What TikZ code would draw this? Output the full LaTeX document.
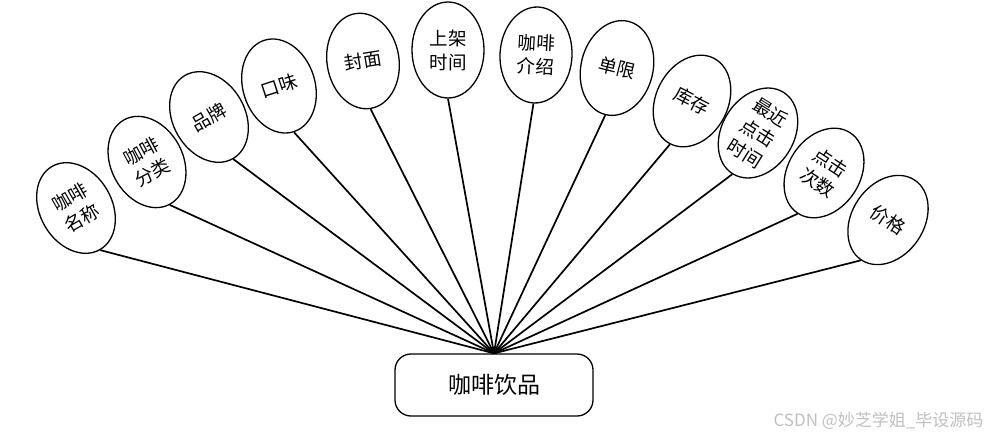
\documentclass[tikz,border=0pt]{standalone}
\usepackage{fontspec}
\newfontfamily\cjk{Noto Sans CJK SC}
\usetikzlibrary{shapes.geometric}
\begin{document}
\begin{tikzpicture}[x=1pt,y=-1pt,
  attr/.style={draw=black, line width=1.3pt, ellipse, minimum width=72pt, minimum height=96pt, inner sep=0pt,
    align=center, font=\cjk\fontsize{18.5}{24}\selectfont},
  hubbox/.style={draw=black, line width=1.3pt, rounded corners=16pt, minimum width=198pt, minimum height=62pt,
    font=\cjk\fontsize{23}{28}\selectfont},
  link/.style={draw=black, line width=1.7pt}]
\useasboundingbox (0,0) rectangle (991,439);
\node[hubbox] (hub) at (494,385) {咖啡饮品};
\node[attr, rotate=30]  (a1)  at (76,208)  {咖啡\\名称};
\node[attr, rotate=28]  (a2)  at (147,162) {咖啡\\分类};
\node[attr, rotate=30]  (a3)  at (209,117) {品牌};
\node[attr, rotate=18]  (a4)  at (279,86)  {口味};
\node[attr, rotate=9]   (a5)  at (363,61)  {封面};
\node[attr, rotate=0]   (a6)  at (448,50)  {上架\\时间};
\node[attr, rotate=-3]  (a7)  at (536,55)  {咖啡\\介绍};
\node[attr, rotate=-14] (a8)  at (617,68)  {单限};
\node[attr, rotate=-27] (a9)  at (692,101) {库存};
\node[attr, rotate=-32] (a10) at (758,133) {最近\\点击\\时间};
\node[attr, rotate=-33] (a11) at (824,173) {点击\\次数};
\node[attr, rotate=-34] (a12) at (888,220) {价格};
\foreach \i in {1,...,12} {\draw[link] (a\i.south) -- (hub.north);}
\node[anchor=east, text=black!25, font=\cjk\fontsize{17}{19}\selectfont] (wm) at (987,421) {CSDN @妙芝学姐\_毕设源码};
\end{tikzpicture}
\end{document}
